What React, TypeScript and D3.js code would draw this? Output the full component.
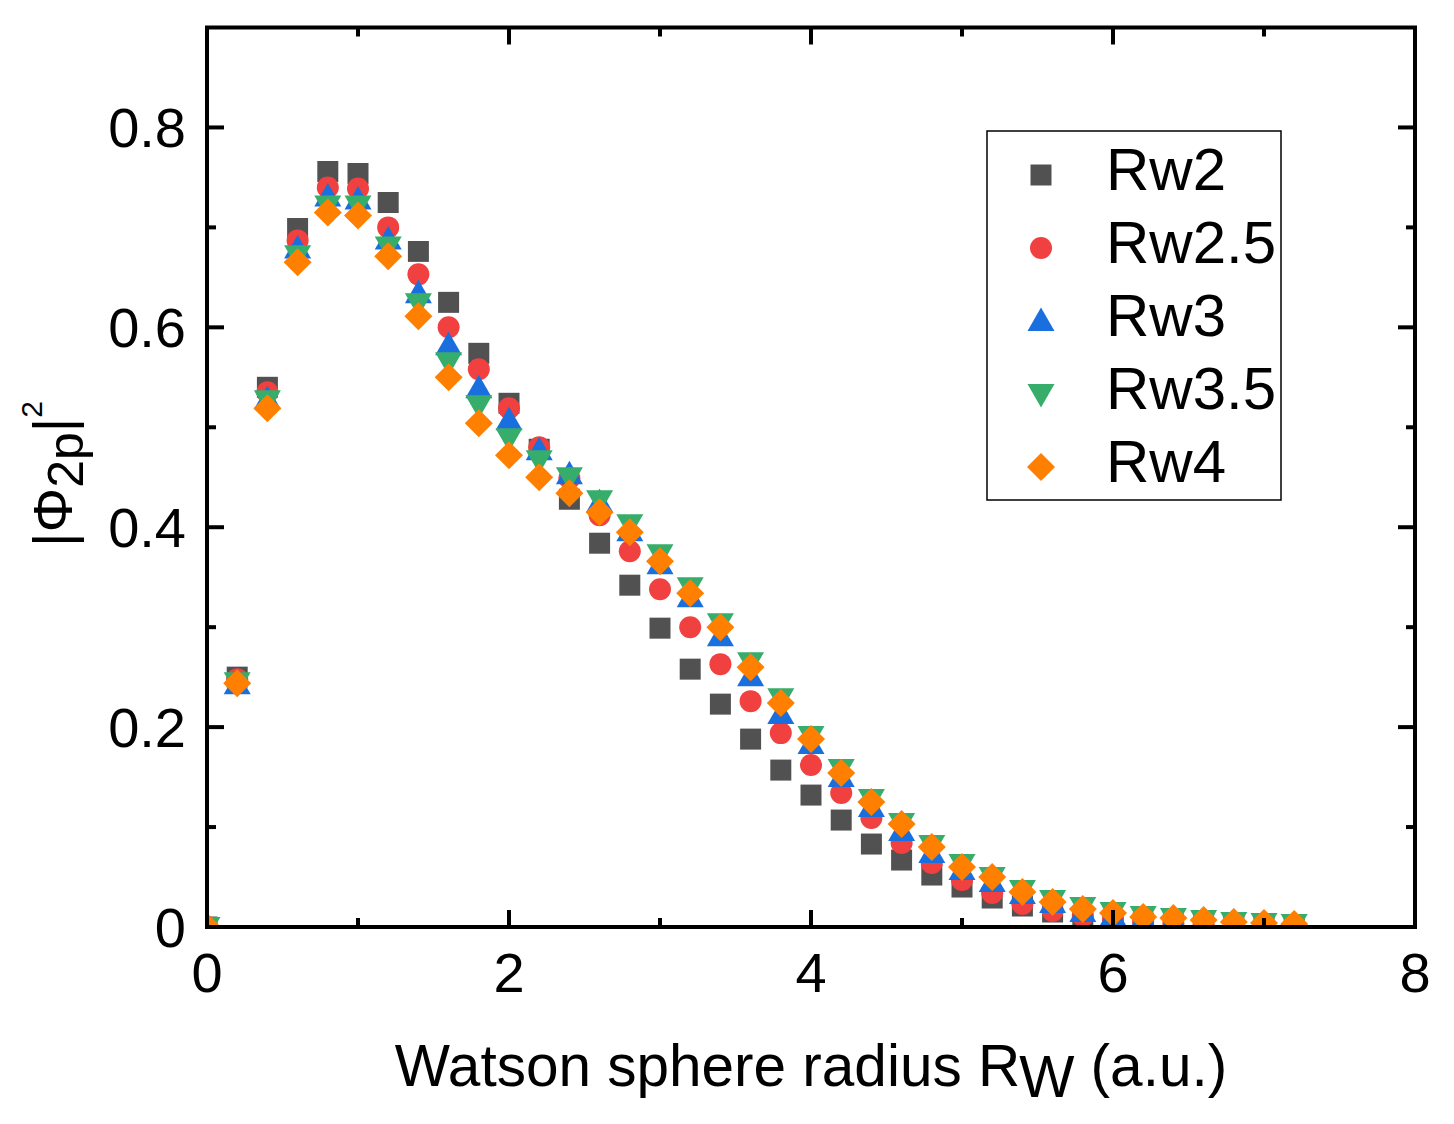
import React from "react";
import * as d3 from "d3";

const xValues = [0, 0.2, 0.4, 0.6, 0.8, 1.0, 1.2, 1.4, 1.6, 1.8, 2.0, 2.2, 2.4, 2.6, 2.8, 3.0, 3.2, 3.4, 3.6, 3.8, 4.0, 4.2, 4.4, 4.6, 4.8, 5.0, 5.2, 5.4, 5.6, 5.8, 6.0, 6.2, 6.4, 6.6, 6.8, 7.0, 7.2];

const rw2 = [0, 0.25, 0.54, 0.699, 0.756, 0.754, 0.725, 0.676, 0.625, 0.574, 0.524, 0.478, 0.428, 0.384, 0.342, 0.299, 0.258, 0.223, 0.188, 0.157, 0.132, 0.107, 0.083, 0.067, 0.052, 0.040, 0.029, 0.021, 0.015, 0.010, 0.006, 0.004, 0.003, 0.002, 0.001, 0.001, 0.0];
const rw25 = [0, 0.248, 0.535, 0.687, 0.740, 0.739, 0.700, 0.653, 0.600, 0.558, 0.519, 0.480, 0.449, 0.412, 0.376, 0.338, 0.300, 0.263, 0.226, 0.194, 0.162, 0.134, 0.109, 0.084, 0.064, 0.047, 0.034, 0.023, 0.016, 0.011, 0.007, 0.005, 0.003, 0.002, 0.001, 0.001, 0.0005];
const rw3 = [0, 0.243, 0.528, 0.679, 0.731, 0.728, 0.688, 0.634, 0.582, 0.539, 0.507, 0.477, 0.453, 0.425, 0.396, 0.363, 0.330, 0.291, 0.251, 0.213, 0.183, 0.150, 0.120, 0.096, 0.074, 0.057, 0.045, 0.033, 0.024, 0.015, 0.011, 0.008, 0.006, 0.004, 0.003, 0.002, 0.001];
const rw35 = [0, 0.245, 0.527, 0.672, 0.722, 0.722, 0.681, 0.624, 0.565, 0.522, 0.489, 0.467, 0.450, 0.427, 0.403, 0.373, 0.340, 0.304, 0.265, 0.229, 0.191, 0.158, 0.128, 0.104, 0.082, 0.063, 0.050, 0.037, 0.027, 0.020, 0.015, 0.011, 0.009, 0.007, 0.005, 0.004, 0.003];
const rw4 = [0, 0.244, 0.519, 0.665, 0.715, 0.712, 0.671, 0.611, 0.550, 0.504, 0.472, 0.450, 0.434, 0.415, 0.395, 0.366, 0.334, 0.300, 0.260, 0.224, 0.188, 0.154, 0.125, 0.103, 0.080, 0.060, 0.050, 0.035, 0.025, 0.018, 0.014, 0.010, 0.009, 0.007, 0.005, 0.004, 0.003];

const seriesNames = ["Rw2", "Rw2.5", "Rw3", "Rw3.5", "Rw4"];
const seriesValues = [rw2, rw25, rw3, rw35, rw4];

const xMajorTicks = [0, 2, 4, 6, 8];
const xMinorTicks = [1, 3, 5, 7];
const yMajorTicks = [0, 0.2, 0.4, 0.6, 0.8];
const yMinorTicks = [0.1, 0.3, 0.5, 0.7];
const xTickLabels = ["0", "2", "4", "6", "8"];
const yTickLabels = ["0", "0.2", "0.4", "0.6", "0.8"];

const colors = ["#515151", "#F0403F", "#1A6FDF", "#37AD6B", "#FF8000"];
const shapes = ["square", "circle", "up", "down", "diamond"];

const W = 1454;
const H = 1124;
const L = 207, R = 1415, T = 27.5, B = 927;
const FONT = "'Liberation Sans', Arial, Helvetica, sans-serif";

function markerPath(shape: string): string {
  switch (shape) {
    case "square":
      return "M-10.5,-10.5H10.5V10.5H-10.5Z";
    case "circle": {
      const p = d3.path();
      p.arc(0, 0, 11, 0, 2 * Math.PI);
      p.closePath();
      return p.toString();
    }
    case "up":
      return "M0,-13.5L13.5,10L-13.5,10Z";
    case "down":
      return "M0,13.5L13.5,-10L-13.5,-10Z";
    case "diamond":
      return "M0,-14L14,0L0,14L-14,0Z";
  }
  return "";
}

export default function App() {
  const x = d3.scaleLinear().domain([0, 8]).range([L, R]);
  const y = d3.scaleLinear().domain([0, 0.9]).range([B, T]);
  const majorLen = 17;
  const minorLen = 9;
  const sw = 4;

  const legendX = 987, legendY = 131, legendW = 294, legendH = 369;
  const rowY = (i: number) => 175 + i * 73;

  return (
    <div style={{ position: "absolute", left: 0, top: 0 }}>
      <svg width={W} height={H} viewBox={`0 0 ${W} ${H}`} style={{ display: "block", background: "#fff" }}>
        <defs>
          <clipPath id="plotClip">
            <rect x={L} y={T} width={R - L} height={B - T} />
          </clipPath>
        </defs>
        <rect x={0} y={0} width={W} height={H} fill="#fff" />

        {/* data */}
        <g clipPath="url(#plotClip)">
          {seriesValues.map((vals, si) => (
            <g key={seriesNames[si]} fill={colors[si]}>
              {vals.map((v, i) => (
                <path key={i} d={markerPath(shapes[si])} transform={`translate(${x(xValues[i])},${y(v)})`} />
              ))}
            </g>
          ))}
        </g>

        {/* ticks */}
        <g stroke="#000" strokeWidth={sw}>
          {xMajorTicks.map((t) => (
            <g key={"xM" + t}>
              <line x1={x(t)} x2={x(t)} y1={B} y2={B - majorLen} />
              <line x1={x(t)} x2={x(t)} y1={T} y2={T + majorLen} />
            </g>
          ))}
          {xMinorTicks.map((t) => (
            <g key={"xm" + t}>
              <line x1={x(t)} x2={x(t)} y1={B} y2={B - minorLen} />
              <line x1={x(t)} x2={x(t)} y1={T} y2={T + minorLen} />
            </g>
          ))}
          {yMajorTicks.map((t) => (
            <g key={"yM" + t}>
              <line x1={L} x2={L + majorLen} y1={y(t)} y2={y(t)} />
              <line x1={R} x2={R - majorLen} y1={y(t)} y2={y(t)} />
            </g>
          ))}
          {yMinorTicks.map((t) => (
            <g key={"ym" + t}>
              <line x1={L} x2={L + minorLen} y1={y(t)} y2={y(t)} />
              <line x1={R} x2={R - minorLen} y1={y(t)} y2={y(t)} />
            </g>
          ))}
        </g>
        <rect x={L} y={T} width={R - L} height={B - T} fill="none" stroke="#000" strokeWidth={sw} strokeLinecap="square" />

        {/* tick labels */}
        <g fontFamily={FONT} fontSize={56} fill="#000">
          {xMajorTicks.map((t, i) => (
            <text key={"xl" + t} x={x(t)} y={992} textAnchor="middle">{xTickLabels[i]}</text>
          ))}
          {yMajorTicks.map((t, i) => (
            <text key={"yl" + t} x={186} y={y(t) + 20} textAnchor="end">{yTickLabels[i]}</text>
          ))}
        </g>

        {/* axis titles */}
        <text x={(L + R) / 2} y={1086} textAnchor="middle" fontFamily={FONT} fontSize={58.5} fill="#000">
          Watson sphere radius R<tspan dy={11}>W</tspan><tspan dy={-11}> (a.u.)</tspan>
        </text>
        <text transform={`translate(72,${474}) rotate(-90)`} textAnchor="middle" fontFamily={FONT} fontSize={56} fill="#000">
          |Φ<tspan dy={11} fontSize={50}>2p</tspan><tspan dy={-11}>|</tspan><tspan dy={-30} fontSize={30}>2</tspan>
        </text>

        {/* legend */}
        <rect x={legendX} y={legendY} width={legendW} height={legendH} fill="#fff" stroke="#000" strokeWidth={1.5} />
        {seriesNames.map((name, i) => (
          <g key={"lg" + name}>
            <path d={markerPath(shapes[i])} fill={colors[i]} transform={`translate(1041,${rowY(i)})`} />
            <text x={1106} y={rowY(i) + 15} fontFamily={FONT} fontSize={60} fill="#000">{name}</text>
          </g>
        ))}
      </svg>
    </div>
  );
}
